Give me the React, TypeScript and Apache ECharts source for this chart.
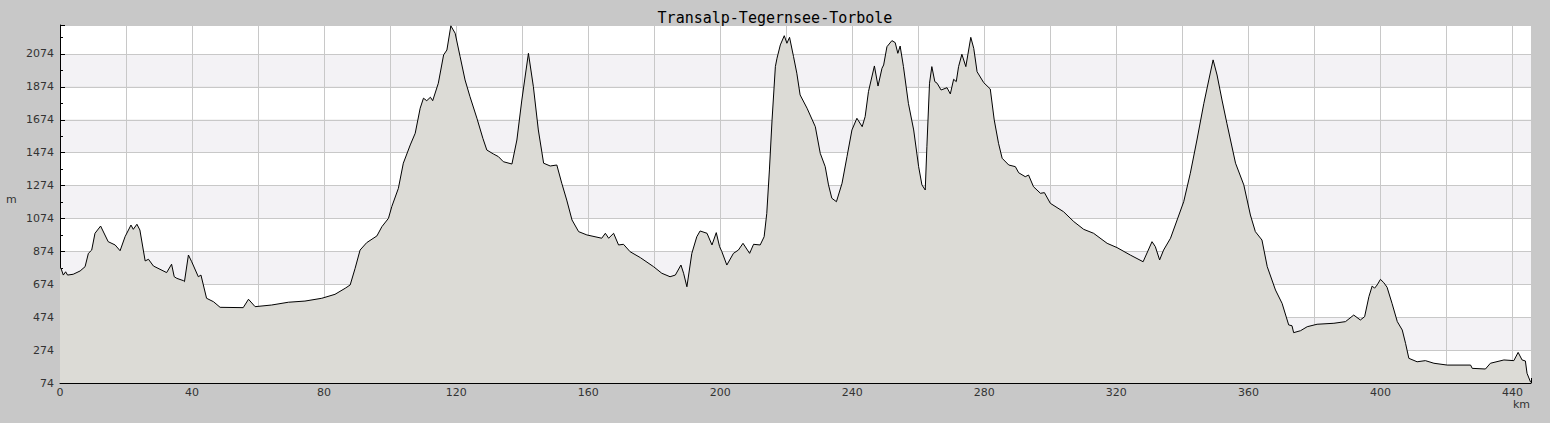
import React, { useEffect, useRef } from "react";
import * as echarts from "echarts";

const TITLE = "Transalp-Tegernsee-Torbole";
const X_UNIT = "km";
const Y_UNIT = "m";

const distanceKm: number[] = [
  0, 0.3, 1.0, 1.7, 2.3, 4.0, 6.1, 7.6, 8.6, 9.6, 10.6, 12.3, 14.6, 16.7, 18.2, 19.7,
  21.5, 22.2, 23.3, 24.2, 25.8, 26.8, 28.3, 32.3, 33.8, 34.6, 35.4, 37.4, 37.7, 38.9,
  39.9, 41.9, 42.7, 44.4, 46.5, 48.5, 55.5, 57.1, 59.1, 64.1, 69.2, 74.2, 79.3, 83.3,
  86.4, 87.9, 89.4, 90.9, 92.9, 96.0, 97.5, 99.5, 100.5, 102.5, 104.0, 106.1, 107.6,
  109.1, 110.1, 111.1, 112.2, 112.9, 114.6, 116.2, 117.2, 118.4, 119.7, 121.2, 122.7,
  124.2, 126.3, 128.1, 129.3, 131.3, 132.8, 134.3, 136.9, 138.4, 139.9, 141.9, 143.4,
  144.9, 146.5, 148.5, 150.5, 152.0, 153.5, 155.1, 157.1, 159.6, 164.1, 165.2, 166.2,
  167.7, 169.2, 170.7, 172.7, 175.8, 179.8, 182.3, 184.8, 186.4, 188.1, 188.9, 189.9,
  191.4, 192.9, 193.9, 196.0, 197.5, 198.8, 199.8, 200.5, 202.0, 204.0, 205.5, 206.9,
  208.9, 210.1, 212.1, 213.3, 214.1, 214.9, 215.7, 216.7, 217.2, 218.2, 219.4, 220.2,
  221.0, 222.2, 223.2, 224.2, 226.3, 228.8, 230.3, 231.8, 232.8, 233.8, 235.2, 236.9,
  238.4, 239.9, 241.4, 243.0, 243.9, 244.9, 246.7, 247.8, 249.0, 249.5, 250.5, 252.0,
  253.0, 253.8, 254.5, 255.5, 257.0, 258.6, 260.1, 261.1, 262.1, 262.6, 263.4, 264.1,
  265.0, 265.7, 266.9, 268.7, 269.7, 270.7, 271.5, 272.2, 273.2, 274.4, 275.9, 276.8,
  277.8, 279.8, 281.8, 283.0, 284.3, 285.4, 287.4, 289.4, 290.4, 292.4, 293.4, 294.9,
  297.0, 298.2, 300.0, 304.0, 307.1, 310.1, 313.1, 317.2, 320.2, 324.2, 328.1, 330.8,
  331.8, 333.1, 334.3, 336.4, 338.4, 340.4, 342.4, 344.4, 346.5, 348.0, 349.3, 350.5,
  352.0, 353.5, 356.1, 358.6, 360.6, 362.1, 364.1, 365.7, 368.2, 370.2, 372.2, 373.2,
  373.7, 375.8, 377.8, 380.8, 385.9, 389.4, 391.9, 393.9, 395.2, 396.5, 397.5, 398.2,
  399.0, 400.0, 401.0, 402.0, 403.5, 405.1, 406.6, 407.6, 408.6, 411.1, 413.6, 416.2,
  420.2, 427.3, 427.8, 431.8, 433.3, 437.4, 440.4, 441.7, 442.9, 443.9, 444.4, 445.5,
];

const elevationM: number[] = [
  775, 771, 730, 750, 730, 735, 755, 781, 862, 882, 984, 1028, 933, 913, 878, 963,
  1034, 1008, 1039, 1004, 816, 826, 785, 745, 796, 720, 710, 696, 690, 852,
  811, 720, 730, 589, 568, 534, 532, 583, 538, 548, 565, 572, 589, 613,
  650, 670, 771, 882, 927, 968, 1024, 1075, 1146, 1257, 1410, 1521, 1592,
  1744, 1805, 1790, 1811, 1790, 1896, 2068, 2098, 2245, 2200, 2058, 1916,
  1814, 1683, 1561, 1490, 1466, 1450, 1419, 1405, 1551, 1794, 2078, 1875,
  1612, 1410, 1393, 1399, 1288, 1186, 1065, 994, 974, 954, 984, 954,
  984, 913, 917, 872, 836, 781, 741, 720, 730, 791, 741, 659,
  862, 963, 998, 984, 913, 988, 903, 872, 791, 862, 882, 923,
  862, 917, 913, 963, 1105, 1369, 1673, 1997, 2048, 2129, 2185, 2139,
  2175, 2058, 1957, 1825, 1744, 1632, 1470, 1389, 1278, 1197, 1176, 1288,
  1450, 1612, 1683, 1632, 1693, 1845, 2001, 1879, 1987, 2007, 2118, 2155,
  2143, 2078, 2122, 1997, 1774, 1612, 1389, 1278, 1247, 1510, 1896, 1997,
  1906, 1896, 1855, 1869, 1831, 1920, 1906, 1997, 2072, 1997, 2175, 2108,
  1966, 1900, 1861, 1673, 1531, 1440, 1399, 1389, 1352, 1328, 1338, 1267,
  1227, 1231, 1166, 1115, 1055, 1008, 984, 923, 897, 852, 811, 933,
  903, 822, 882, 954, 1065, 1176, 1349, 1551, 1774, 1916, 2038, 1946,
  1794, 1650, 1410, 1278, 1095, 994, 943, 781, 639, 558, 427, 422,
  380, 392, 416, 431, 437, 447, 487, 457, 477, 599, 664, 650,
  670, 704, 684, 656, 558, 447, 396, 315, 224, 203, 210, 194,
  183, 183, 163, 159, 194, 214, 210, 260, 214, 208, 133, 78,
];

const X_MIN = 0;
const X_MAX = 445.6;
const X_STEP = 20;
const X_LABEL_STEP = 40;
const Y_MIN = 74;
const Y_MAX = 2250;
const Y_STEP = 200;

export default function App() {
  const ref = useRef<HTMLDivElement>(null);

  useEffect(() => {
    document.body.style.margin = "0";
    document.body.style.background = "#c8c8c8";
    const chart = echarts.init(ref.current!, null, { renderer: "svg" });
    const data = distanceKm.map((d, i) => [d, elevationM[i]]);
    const labelFont = {
      fontFamily: "DejaVu Sans",
      fontSize: 11,
      color: "#333333",
    };
    chart.setOption({
      animation: false,
      backgroundColor: "#c8c8c8",
      title: {
        text: TITLE,
        left: "center",
        top: 5,
        textStyle: {
          fontFamily: "DejaVu Sans Mono",
          fontSize: 15,
          fontWeight: "normal",
          color: "#000000",
        },
      },
      grid: { left: 60, top: 25, right: 19, bottom: 40, containLabel: false },
      xAxis: {
        type: "value",
        min: X_MIN,
        max: X_MAX,
        interval: X_STEP,
        axisLine: { show: true, lineStyle: { color: "#000000", width: 1 } },
        axisTick: { show: true, inside: true, length: 5, lineStyle: { color: "#000000" } },
        minorTick: { show: true, splitNumber: 2, length: 3, lineStyle: { color: "#000000" } },
        axisLabel: {
          ...labelFont,
          margin: 4,
          showMaxLabel: false,
          formatter: (v: number) => (v % X_LABEL_STEP === 0 ? String(v) : ""),
        },
        splitLine: { show: true, lineStyle: { color: "#c8c8c8", width: 1 } },
      },
      yAxis: {
        type: "value",
        min: Y_MIN,
        max: Y_MAX,
        interval: Y_STEP,
        axisLine: { show: true, lineStyle: { color: "#000000", width: 1 } },
        axisTick: { show: true, inside: true, length: 5, lineStyle: { color: "#000000" } },
        minorTick: { show: true, splitNumber: 2, length: 3, lineStyle: { color: "#000000" } },
        axisLabel: {
          ...labelFont,
          margin: 6,
          showMaxLabel: false,
          formatter: (v: number) => ((v - Y_MIN) % Y_STEP === 0 ? String(v) : ""),
        },
        splitLine: { show: true, lineStyle: { color: "#c8c8c8", width: 1 } },
        splitArea: { show: true, areaStyle: { color: ["#ffffff", "#f3f2f5"] } },
      },
      graphic: [
        {
          type: "text",
          left: 1513,
          top: 399,
          style: { text: X_UNIT, font: "11px 'DejaVu Sans'", fill: "#333333" },
        },
        {
          type: "text",
          left: 6,
          top: 194,
          style: { text: Y_UNIT, font: "11px 'DejaVu Sans'", fill: "#333333" },
        },
      ],
      series: [
        {
          type: "line",
          data,
          showSymbol: false,
          symbol: "none",
          smooth: false,
          lineStyle: { color: "#000000", width: 1 },
          areaStyle: { color: "#dcdbd6", opacity: 1, origin: "start" },
          z: 3,
        },
      ],
    });
    return () => chart.dispose();
  }, []);

  return (
    <div
      ref={ref}
      style={{ position: "fixed", left: 0, top: 0, width: 1550, height: 423 }}
    />
  );
}
